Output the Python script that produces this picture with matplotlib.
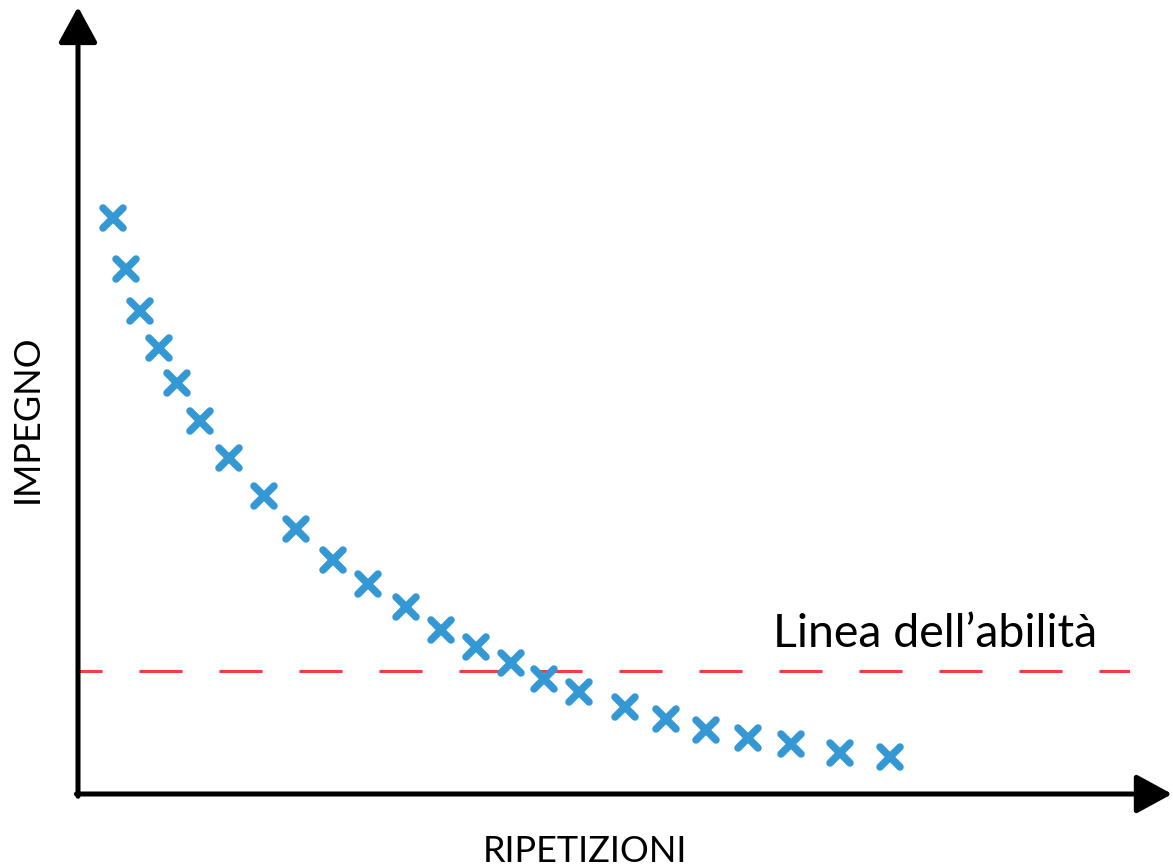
import matplotlib
matplotlib.use("Agg")
import matplotlib.pyplot as plt
from matplotlib.markers import MarkerStyle

# data (arbitrary units, origin at the axes corner)
ripetizioni = [3.3, 4.6, 5.9, 7.7, 9.4, 11.6, 14.4, 17.7, 20.7, 24.2, 27.6, 31.2,
               34.5, 37.8, 41.2, 44.3, 47.6, 52.0, 55.9, 59.7, 63.7, 67.8, 72.4, 77.2]
impegno = [77.4, 70.6, 64.9, 59.9, 55.2, 50.1, 45.2, 40.0, 35.6, 31.5, 28.2, 25.1,
           22.0, 19.8, 17.6, 15.5, 13.7, 11.7, 10.1, 8.6, 7.5, 6.7, 5.5, 5.0]
linea_abilita = 16.5

blue = "#3498d4"
red = "#f93a3e"

plt.rcParams["font.family"] = ["Lato", "DejaVu Sans"]
plt.rcParams["lines.scale_dashes"] = False

fig = plt.figure(figsize=(11.73, 8.67), dpi=100)
ax = fig.add_axes([78 / 1173, (867 - 794) / 867, (1130 - 78) / 1173, (794 - 50) / 867])
ax.set_xlim(0, 100)
ax.set_ylim(0, 100)
for s in ax.spines.values():
    s.set_visible(False)
ax.set_xticks([])
ax.set_yticks([])

# skill line
ax.plot([0, 100], [linea_abilita, linea_abilita], color=red, lw=2.2,
        linestyle=(13.7, (31, 26.6)), zorder=1)

# points
ax.plot(ripetizioni, impegno, linestyle="none",
        marker=MarkerStyle("x", capstyle="round"), markersize=14,
        markeredgewidth=5.4, color=blue, zorder=3)

# axes arrows
arrow = dict(arrowstyle="-|>,head_length=2.2,head_width=1.2", color="black",
             lw=3.6, shrinkA=0, shrinkB=0, mutation_scale=10)
ax.annotate("", xy=(0, 105.8), xytext=(0, -0.3), arrowprops=arrow, annotation_clip=False)
ax.annotate("", xy=(104, 0), xytext=(-0.15, 0), arrowprops=arrow, annotation_clip=False)

ax.text(66.1, 19.8, "Linea dell\u2019abilit\u00e0", fontsize=33.5, color="black",
        ha="left", va="baseline")

fig.text(585 / 1173, 1 - 862 / 867, "RIPETIZIONI", fontsize=26, ha="center", va="baseline")
fig.text(27 / 1173, 1 - 419 / 867, "IMPEGNO", fontsize=26, ha="center", va="center",
         rotation=90)

fig.savefig("out.png", dpi=100)
